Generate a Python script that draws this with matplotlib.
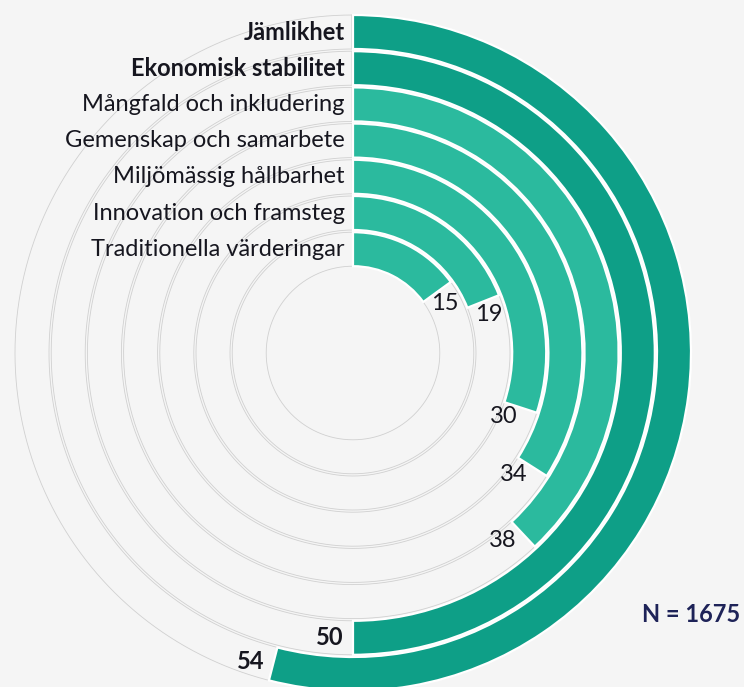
import numpy as np
import matplotlib
matplotlib.use("Agg")
import matplotlib.pyplot as plt

categories = ["Jämlikhet", "Ekonomisk stabilitet", "Mångfald och inkludering",
              "Gemenskap och samarbete", "Miljömässig hållbarhet",
              "Innovation och framsteg", "Traditionella värderingar"]
values = [54, 50, 38, 34, 30, 19, 15]
highlight = [True, True, False, False, False, False, False]
n_label = "N = 1675"
full_scale = 100

plt.rcParams['font.family'] = ['Lato', 'DejaVu Sans']

W, H, DPI = 744, 687, 100
BG = '#f5f5f5'
DARK = '#0e9f87'
LIGHT = '#2bba9e'
TXT = '#16161f'

fig = plt.figure(figsize=(W / DPI, H / DPI), dpi=DPI, facecolor=BG)
cx, cy = 353, 353          # centre in pixels from top-left
R_AX = 345
ax = fig.add_axes([(cx - R_AX) / W, (H - cy - R_AX) / H, 2 * R_AX / W, 2 * R_AX / H],
                  projection='polar')
ax.set_theta_zero_location('N')
ax.set_theta_direction(-1)
ax.set_ylim(0, R_AX)
ax.set_axis_off()

r_outer0 = 338
pitch = 36.2
thick = 34

theta_full = np.linspace(0, 2 * np.pi, 720)
for i, (cat, v, hl) in enumerate(zip(categories, values, highlight)):
    r_out = r_outer0 - i * pitch
    r_in = r_out - thick
    # track outline
    for r in (r_in, r_out):
        ax.plot(theta_full, np.full_like(theta_full, r), color='#d0d0d0', lw=0.6, zorder=1)
    ax.plot([-0.004, -0.004], [r_in, r_out], color='#d0d0d0', lw=0.6, zorder=1)
    # bar
    ang = v / full_scale * 2 * np.pi
    ax.bar(0, thick, width=ang, bottom=r_in, align='edge',
           color=DARK if hl else LIGHT, edgecolor='white', linewidth=1.6, zorder=3)
    r_mid = r_in + thick / 2
    # category label
    ax.annotate(cat, xy=(0, r_mid), xytext=(-6, 0), textcoords='offset points',
                ha='right', va='center', fontsize=17, color=TXT,
                fontweight='bold' if hl else 'normal', zorder=5)
    # value label
    if ang < np.pi / 2:
        d, ha = 14, 'center'
    else:
        d, ha = 9, 'right'
    dx = d * np.cos(ang) * 72 / DPI
    dy = -d * np.sin(ang) * 72 / DPI
    ax.annotate(str(v), xy=(ang, r_mid), xytext=(dx, dy), textcoords='offset points',
                ha=ha, va='center', fontsize=17, color=TXT,
                fontweight='bold' if hl else 'normal', zorder=5)

fig.text(740 / W, 1 - 615 / H, n_label, ha='right', va='center', fontsize=17,
         fontweight='bold', color='#1e2358')

fig.savefig('out.png', dpi=DPI, facecolor=BG)
